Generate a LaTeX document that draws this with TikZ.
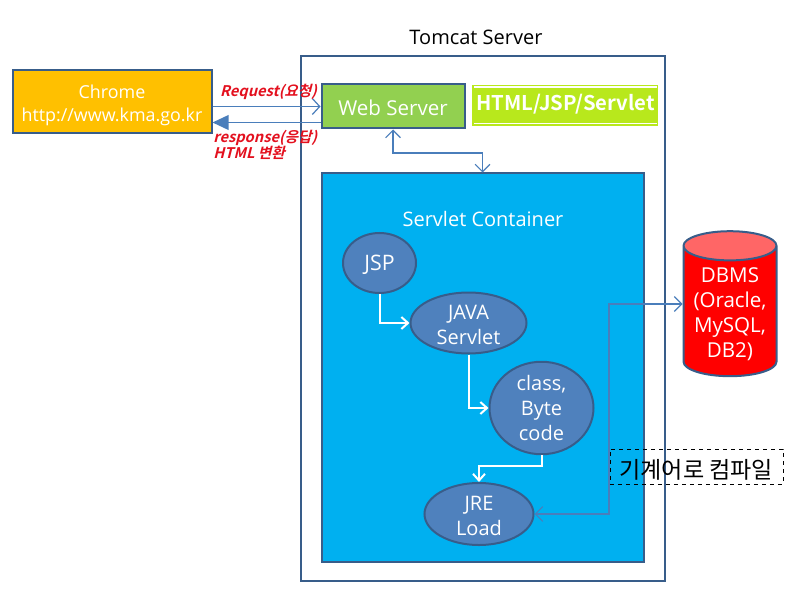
\documentclass[tikz,border=0pt]{standalone}
\usepackage{fontspec}
\setmainfont{Open Sans}
\newfontfamily\krfont{Noto Sans CJK KR}
\newfontfamily\krslant[FakeSlant=0.25]{Noto Sans CJK KR Bold}
\newfontfamily\krbold{Noto Sans CJK KR Bold}
\usetikzlibrary{shapes.geometric}
\usetikzlibrary{arrows.meta}
\newcommand{\lowline}[1]{\rule{0pt}{#1}}
\definecolor{framecol}{HTML}{385D8A}
\definecolor{linkcol}{HTML}{4A7EBB}
\definecolor{stepcol}{HTML}{4F81BD}
\definecolor{labelcol}{HTML}{E3101E}
\definecolor{chromecol}{HTML}{FFC000}
\definecolor{webcol}{HTML}{92D050}
\definecolor{htmlcol}{HTML}{B8E81C}
\definecolor{containercol}{HTML}{00B0F0}
\definecolor{dbtopcol}{HTML}{FF6666}
\tikzset{
    whitetext/.style={text=white, font=\fontsize{15}{18.75}\selectfont, align=center, inner sep=0pt},
    flatbox/.style={draw=framecol, line width=1.5pt, whitetext},
    stepoval/.style={ellipse, draw=framecol, line width=1.5pt, fill=stepcol, whitetext},
    redlabel/.style={text=labelcol, font=\fontsize{11}{11}\krslant, inner sep=0pt, align=left},
    linkboth/.style={draw=linkcol, line width=0.9pt, {Straight Barb[length=5.5pt,width=11pt]}-{Straight Barb[length=5.5pt,width=11pt]}},
    whitelink/.style={draw=white, line width=1.5pt, -{Straight Barb[length=5pt,width=9pt]}}
}
\begin{document}
\begin{tikzpicture}[x=0.75pt, y=-0.75pt]
        \useasboundingbox (0,0) rectangle (801,592);
        % outer boxes
        \node[flatbox, fill=white, minimum width=273pt, minimum height=393pt, anchor=north west] (tomcat) at (299.5,55.5) {};
        \node[font=\fontsize{15}{16}\selectfont, text=black, inner sep=0pt] (tomcatname) at (476,37) {Tomcat Server};
        \node[flatbox, fill=chromecol, minimum width=149.25pt, minimum height=47.25pt, anchor=north west, font=\fontsize{13.4}{17}\selectfont] (chrome) at (11.5,69.5) {\lowline{15.5pt}Chrome\\http://www.kma.go.kr};
        \node[flatbox, fill=webcol, minimum width=107.25pt, minimum height=33pt, anchor=north west, font=\fontsize{15.4}{18}\selectfont] (webserver) at (320.5,83.5) {\lowline{13.5pt}Web Server};
        % html label
        \node[fill=htmlcol, minimum width=139.5pt, minimum height=30.75pt, anchor=north west, inner sep=0pt] (htmlbox) at (472,85) {};
        \draw[white, line width=1pt] ([xshift=1.5pt, yshift=-1.5pt]htmlbox.north west) -- ([xshift=-1.5pt, yshift=-1.5pt]htmlbox.north east);
        \draw[white, line width=1pt] ([xshift=1.5pt, yshift=2.25pt]htmlbox.south west) -- ([xshift=-1.5pt, yshift=2.25pt]htmlbox.south east);
        \node[text=white, font=\fontsize{15.2}{16}\krbold, inner sep=0pt] (htmlname) at (565.5,104) {HTML/JSP/Servlet};
        % container
        \node[flatbox, fill=containercol, minimum width=241.5pt, minimum height=291pt, anchor=north west] (container) at (320.5,172.5) {};
        \node[whitetext] (containername) at (483,219) {Servlet Container};
        % steps
        \node[stepoval, minimum width=54.75pt, minimum height=45pt, font=\fontsize{16}{18.75}\selectfont] (jsp) at (379.5,263) {\lowline{14.5pt}JSP};
        \node[stepoval, minimum width=87pt, minimum height=45.75pt] (servlet) at (468.5,323) {\lowline{13pt}JAVA\\Servlet};
        \node[stepoval, minimum width=78pt, minimum height=60pt] (bytecode) at (541.5,408) {class,\\Byte\\code};
        \node[stepoval, minimum width=81.75pt, minimum height=45pt] (jre) at (479,514) {\lowline{14pt}JRE\\Load};
        % dbms
        \node[cylinder, shape border rotate=90, aspect=0.4, draw=framecol, line width=1.5pt, cylinder uses custom fill, cylinder body fill=red, cylinder end fill=dbtopcol, minimum width=69.75pt, minimum height=108.75pt, whitetext, font=\fontsize{15.4}{18.75}\selectfont] (dbms) at (730,311.5) {\lowline{15.5pt}DBMS\\(Oracle,\\MySQL,\\DB2)};
        % links
        \coordinate (webmid) at (393,153);
        \draw[linkboth] (webserver.south) |- (webmid) -| (container.north);
        \coordinate (dbmid) at (609,304);
        \draw[linkboth] (jre.east) -| (dbmid) -- (dbms.west |- dbmid);
        \draw[whitelink] (jsp.south) |- (servlet.west);
        \draw[whitelink] (servlet.south) |- (bytecode.west);
        \coordinate (loadmid) at (510,466);
        \draw[whitelink] (bytecode.south) |- (loadmid) -| (jre.north);
        % request and response
        \draw[draw=linkcol, line width=0.9pt, -{Straight Barb[length=5.5pt,width=12pt]}] (chrome.east |- webserver.west) -- (webserver.west);
        \draw[draw=linkcol, line width=1.2pt, -{Triangle[length=12pt,width=11pt]}] ([yshift=-12pt]webserver.west) -- ([yshift=-12pt]chrome.east |- webserver.west);
        \node[redlabel] (requestname) at (268.5,91.5) {Request(요청)};
        \node[redlabel, anchor=north west] (responsename) at (213,129.5) {response(응답)\\HTML 변환};
        % note
        \node[draw=black, dashed, line width=0.5pt, minimum width=129.75pt, minimum height=26.25pt, anchor=north west, font=\fontsize{17.3}{18}\krfont, text=black, inner sep=0pt] (note) at (609.5,448.5) {\lowline{19pt}기계어로 컴파일};
    \end{tikzpicture}
\end{document}
